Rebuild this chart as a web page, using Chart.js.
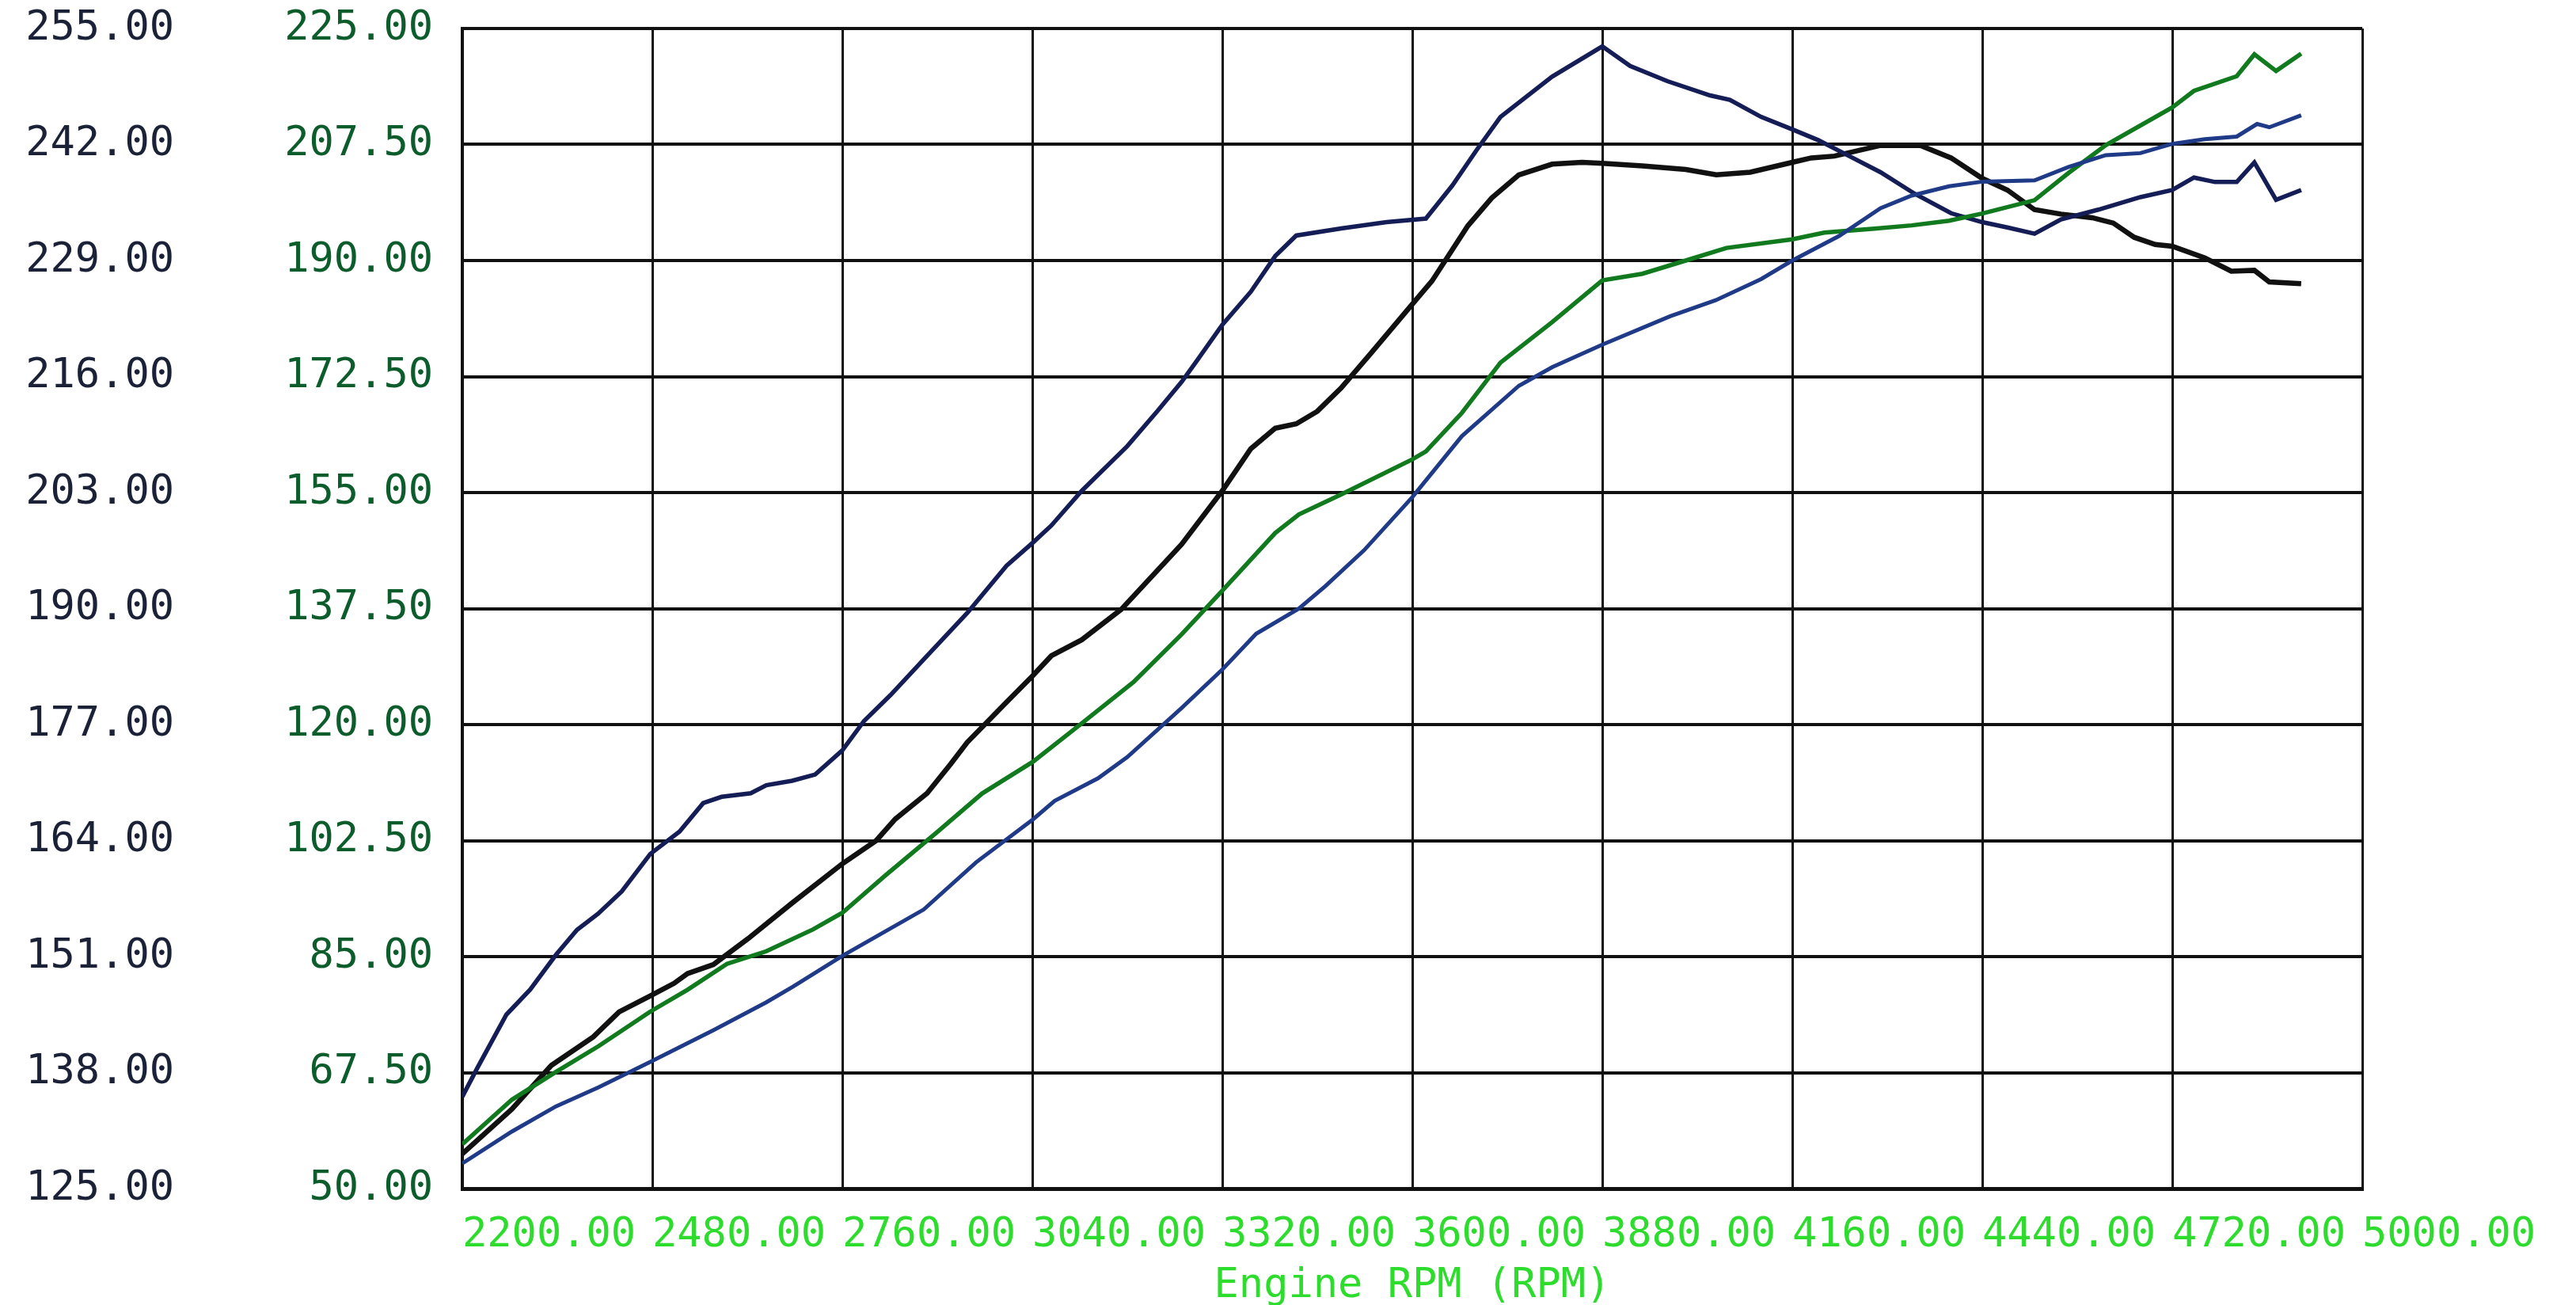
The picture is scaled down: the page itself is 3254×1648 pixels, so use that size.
<!DOCTYPE html>
<html>
<head>
<meta charset="utf-8">
<script src="https://cdn.jsdelivr.net/npm/chart.js@4.4.1/dist/chart.umd.min.js"></script>
<style>
  html, body { margin: 0; padding: 0; background: #fff; }
  #wrap { width: 3254px; height: 1648px; }
</style>
</head>
<body>
<div id="wrap"><canvas id="dyno" width="3254" height="1648"></canvas></div>
<script>
// axis ticks
const rpmTicks = [2200, 2480, 2760, 3040, 3320, 3600, 3880, 4160, 4440, 4720, 5000];
const torqueTicks = [125, 138, 151, 164, 177, 190, 203, 216, 229, 242, 255];
const powerTicks = [50, 67.5, 85, 102.5, 120, 137.5, 155, 172.5, 190, 207.5, 225];

// upper navy curve (left scale)
const navyRpm = [2200, 2222, 2265, 2300, 2338, 2369, 2400, 2435, 2477, 2520, 2555, 2582, 2625, 2648, 2686, 2720,
  2760, 2792, 2831, 2885, 2944, 3002, 3041, 3068, 3113, 3180, 3224, 3260, 3280, 3320, 3362, 3398, 3429, 3495,
  3562, 3620, 3659, 3695, 3730, 3806, 3880, 3921, 3976, 4039, 4068, 4114, 4160, 4198, 4244, 4290, 4340, 4394,
  4440, 4477, 4517, 4556, 4611, 4673, 4720, 4752, 4783, 4815, 4841, 4873, 4910];
const navyTorque = [135.3, 138.5, 144.5, 147.3, 151.2, 154.0, 155.8, 158.3, 162.5, 165.0, 168.2, 168.9, 169.3, 170.2, 170.7, 171.4,
  174.1, 177.4, 180.3, 184.7, 189.5, 194.8, 197.4, 199.3, 203.2, 208.2, 212.1, 215.4, 217.5, 221.8, 225.5, 229.5, 231.8, 232.6,
  233.3, 233.7, 237.4, 241.4, 245.1, 249.6, 253.0, 250.8, 249.1, 247.5, 247.0, 245.1, 243.7, 242.5, 240.7, 238.9, 236.5, 234.3,
  233.3, 232.7, 232.0, 233.6, 234.7, 236.1, 236.9, 238.3, 237.8, 237.8, 240.0, 235.8, 236.9];

// black curve (left scale)
const blackRpm = [2200, 2273, 2331, 2393, 2431, 2477, 2512, 2532, 2570, 2621, 2686, 2760, 2810, 2838, 2885, 2920,
  2944, 3002, 3041, 3068, 3113, 3171, 3260, 3320, 3362, 3398, 3429, 3460, 3495, 3540, 3600, 3629, 3682, 3717,
  3757, 3806, 3850, 3880, 3939, 4003, 4048, 4098, 4160, 4188, 4222, 4290, 4349, 4394, 4440, 4477, 4517, 4556,
  4602, 4633, 4664, 4695, 4720, 4768, 4807, 4841, 4863, 4910];
const blackTorque = [128.9, 133.9, 138.8, 142.0, 144.8, 146.6, 148.0, 149.1, 150.1, 153.0, 157.0, 161.4, 164.0, 166.4, 169.3, 172.6,
  175.0, 179.5, 182.5, 184.7, 186.5, 189.9, 197.2, 203.2, 207.9, 210.2, 210.7, 212.1, 214.7, 218.7, 224.1, 226.7, 232.9, 236.0,
  238.6, 239.8, 240.0, 239.9, 239.6, 239.2, 238.6, 238.9, 240.0, 240.5, 240.7, 241.9, 241.9, 240.5, 238.2, 236.9, 234.7, 234.2,
  233.8, 233.2, 231.6, 230.8, 230.6, 229.3, 227.8, 227.9, 226.6, 226.4];

// green curve (green scale)
const greenRpm = [2200, 2273, 2338, 2401, 2477, 2532, 2590, 2648, 2717, 2760, 2823, 2900, 2966, 3041, 3113, 3189,
  3260, 3320, 3398, 3433, 3495, 3600, 3620, 3673, 3730, 3806, 3880, 3939, 4003, 4063, 4160, 4207, 4281, 4336,
  4391, 4440, 4517, 4567, 4622, 4720, 4752, 4815, 4841, 4873, 4910];
const greenPower = [56.7, 63.4, 67.6, 71.5, 76.7, 80.0, 83.9, 85.8, 89.1, 91.6, 97.2, 103.8, 109.6, 114.4, 120.2, 126.4,
  133.6, 140.2, 148.9, 151.7, 154.7, 160.0, 161.2, 167.0, 174.6, 180.7, 187.0, 188.0, 190.0, 191.9, 193.2, 194.2, 194.8, 195.3,
  196.0, 197.1, 199.1, 203.2, 207.4, 213.1, 215.6, 217.8, 221.1, 218.6, 221.2];

// lower blue curve (green scale)
const blueRpm = [2200, 2273, 2338, 2401, 2477, 2570, 2648, 2688, 2760, 2880, 2957, 3041, 3073, 3137, 3180, 3260,
  3320, 3370, 3433, 3472, 3529, 3600, 3673, 3757, 3806, 3880, 3980, 4047, 4114, 4160, 4229, 4290, 4336, 4391,
  4440, 4517, 4567, 4622, 4673, 4720, 4768, 4815, 4845, 4863, 4910];
const bluePower = [53.8, 58.6, 62.4, 65.3, 69.1, 73.9, 78.1, 80.5, 85.1, 92.1, 99.2, 105.7, 108.5, 111.9, 115.1, 122.5,
  128.3, 133.7, 137.5, 140.9, 146.3, 154.3, 163.5, 171.1, 173.9, 177.3, 181.6, 184.0, 187.2, 190.0, 193.7, 197.9, 199.8, 201.2,
  201.9, 202.1, 204.1, 205.9, 206.2, 207.6, 208.3, 208.7, 210.6, 210.1, 211.9];

const pts = (xs, ys) => xs.map((x, i) => ({x, y: ys[i]}));
const mono = 'DejaVu Sans Mono';
const fixedTicks = (list) => (scale) => { scale.ticks = list.map(value => ({value})); };
// fixed axis width; keep the top/bottom overhang to half a label
const fixedWidth = (w) => (scale) => { scale.width = w; scale.paddingTop = 31; scale.paddingBottom = 31; };

const line = (data, color, width, axis) => ({
  data,
  borderColor: color,
  borderWidth: width,
  yAxisID: axis,
  pointRadius: 0,
  tension: 0,
  fill: false
});

new Chart(document.getElementById('dyno'), {
  type: 'line',
  data: {
    datasets: [
      line(pts(blueRpm, bluePower), '#1f3a86', 5, 'power'),
      line(pts(greenRpm, greenPower), '#127a1e', 5.5, 'power'),
      line(pts(navyRpm, navyTorque), '#141d55', 5.5, 'torque'),
      line(pts(blackRpm, blackTorque), '#111111', 6.5, 'torque')
    ]
  },
  options: {
    responsive: false,
    animation: false,
    devicePixelRatio: 1,
    layout: {padding: {left: 31, right: 270, top: 36, bottom: 0}},
    plugins: {legend: {display: false}, tooltip: {enabled: false}},
    scales: {
      x: {
        type: 'linear',
        min: 2200,
        max: 5000,
        afterBuildTicks: fixedTicks(rpmTicks),
        afterFit: (s) => { s.height = 147; },
        grid: {color: '#111', lineWidth: 3, drawTicks: false},
        border: {display: true, color: '#111', width: 5},
        ticks: {
          align: 'start',
          padding: 28,
          maxRotation: 0,
          autoSkip: false,
          color: '#2edc2e',
          font: {family: mono, size: 52},
          callback: v => v.toFixed(2)
        },
        title: {
          display: true,
          text: 'Engine RPM (RPM)',
          color: '#2edc2e',
          padding: {top: 4, bottom: 0},
          font: {family: mono, size: 52, lineHeight: 0.9}
        }
      },
      torque: {
        type: 'linear',
        position: 'left',
        weight: 2,
        min: 125,
        max: 255,
        afterBuildTicks: fixedTicks(torqueTicks),
        afterFit: fixedWidth(328),
        grid: {color: '#111', lineWidth: 4, drawTicks: false},
        border: {display: false},
        ticks: {
          padding: 139,
          color: '#1b2238',
          font: {family: mono, size: 52},
          callback: v => v.toFixed(2)
        }
      },
      power: {
        type: 'linear',
        position: 'left',
        weight: 1,
        min: 50,
        max: 225,
        afterBuildTicks: fixedTicks(powerTicks),
        afterFit: fixedWidth(225),
        grid: {display: false, drawTicks: false},
        border: {display: true, color: '#111', width: 4},
        ticks: {
          padding: 37,
          color: '#0d5c2c',
          font: {family: mono, size: 52},
          callback: v => v.toFixed(2)
        }
      }
    }
  }
});
</script>
</body>
</html>
